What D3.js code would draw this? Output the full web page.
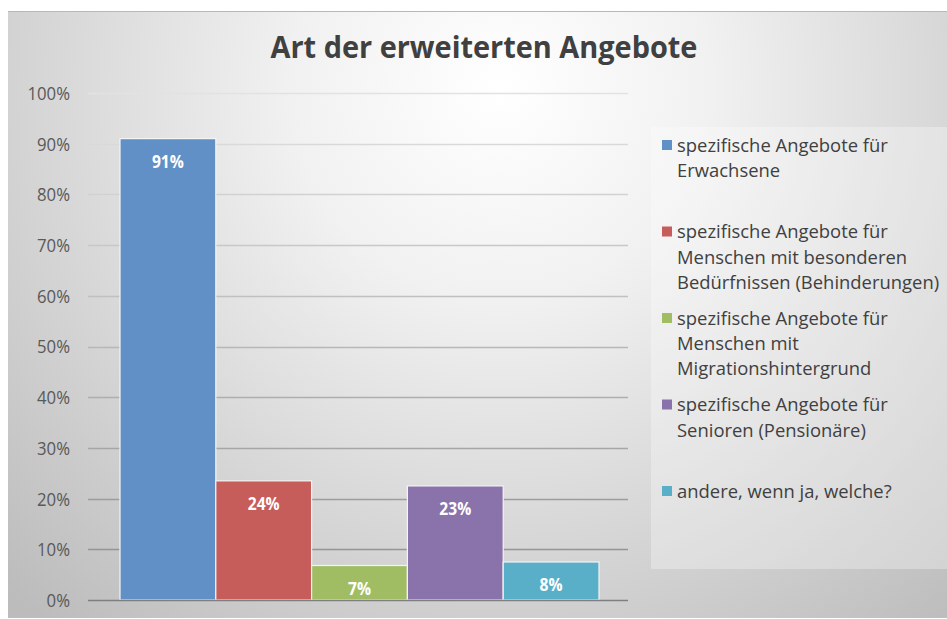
<!DOCTYPE html>
<html><head><meta charset="utf-8">
<script src="https://cdn.jsdelivr.net/npm/d3@7/dist/d3.min.js"></script>
<style>
html,body{margin:0;padding:0;background:#fff;}
svg{display:block;}
</style></head>
<body>
<svg id="chart" width="947" height="619"></svg>
<script>
const title = "Art der erweiterten Angebote";
const categories = [
  "spezifische Angebote für Erwachsene",
  "spezifische Angebote für Menschen mit besonderen Bedürfnissen (Behinderungen)",
  "spezifische Angebote für Menschen mit Migrationshintergrund",
  "spezifische Angebote für Senioren (Pensionäre)",
  "andere, wenn ja, welche?"
];
const legendLines = [
  ["spezifische Angebote für", "Erwachsene"],
  ["spezifische Angebote für", "Menschen mit besonderen", "Bedürfnissen (Behinderungen)"],
  ["spezifische Angebote für", "Menschen mit", "Migrationshintergrund"],
  ["spezifische Angebote für", "Senioren (Pensionäre)"],
  ["andere, wenn ja, welche?"]
];
const values = [0.91, 0.235, 0.068, 0.225, 0.075];
const colors = ["#6090c6", "#c65d5b", "#a0bd63", "#8a72aa", "#5aafc8"];
const yTicks = [0, 0.1, 0.2, 0.3, 0.4, 0.5, 0.6, 0.7, 0.8, 0.9, 1.0];

const svg = d3.select("#chart");
const defs = svg.append("defs");
const rg = defs.append("radialGradient").attr("id", "bg")
  .attr("gradientUnits", "userSpaceOnUse")
  .attr("cx", 500).attr("cy", 90).attr("r", 700);
rg.append("stop").attr("offset", "0%").attr("stop-color", "#ffffff");
rg.append("stop").attr("offset", "30%").attr("stop-color", "#f1f1f1");
rg.append("stop").attr("offset", "100%").attr("stop-color", "#bcbcbc");

svg.append("rect").attr("x", 8).attr("y", 11).attr("width", 939).attr("height", 607)
  .attr("fill", "url(#bg)");
svg.append("line").attr("x1", 8).attr("x2", 947).attr("y1", 11.5).attr("y2", 11.5)
  .attr("stroke", "#b8b8b8").attr("stroke-width", 1);

const font = "'Open Sans', 'DejaVu Sans', sans-serif";

// horizontally condense a text element to a target width, anchored at ax
function condense(sel, target, ax) {
  const w = sel.node().getBBox().width;
  const s = target / w;
  sel.attr("transform", `translate(${ax},0) scale(${s},1) translate(${-ax},0)`);
}

// title
const t = svg.append("text").attr("x", 484).attr("y", 58)
  .attr("text-anchor", "middle").attr("font-family", font)
  .attr("font-weight", 700).attr("font-size", 30.5).attr("fill", "#404040").text(title);
condense(t, 427, 484);

// scales
const y = d3.scaleLinear().domain([0, 1]).range([600, 93]);
const x = d3.scaleBand().domain(categories).range([120, 599]).padding(0);
const gridColor = d3.scaleLinear().domain([1, 0]).range(["#e2e2e2", "#8c8c8c"]);

// gridlines
svg.append("g").selectAll("line").data(yTicks.filter(d => d > 0)).join("line")
  .attr("x1", 88).attr("x2", 628)
  .attr("y1", d => Math.round(y(d)) + 0.5).attr("y2", d => Math.round(y(d)) + 0.5)
  .attr("stroke", d => gridColor(d)).attr("stroke-width", 1.3);

// y axis labels
const yAxis = d3.axisLeft(y).tickValues(yTicks).tickFormat(d3.format(".0%")).tickSize(0).tickPadding(0);
const ga = svg.append("g").attr("transform", "translate(70,0)").call(yAxis);
ga.select(".domain").remove();
ga.selectAll("text").attr("font-family", font).attr("font-size", 18)
  .attr("fill", "#595959").attr("dy", "0.36em")
  .attr("transform", "scale(0.93,1)").attr("x", 0);

// bars
svg.append("g").selectAll("rect").data(categories).join("rect")
  .attr("x", d => x(d)).attr("width", x.bandwidth())
  .attr("y", (d, i) => y(values[i])).attr("height", (d, i) => y(0) - y(values[i]))
  .attr("fill", (d, i) => colors[i])
  .attr("stroke", "#f4f4f4").attr("stroke-width", 1.2);

// axis line
svg.append("line").attr("x1", 88).attr("x2", 628).attr("y1", 600.5).attr("y2", 600.5)
  .attr("stroke", "#7f7f7f").attr("stroke-width", 1.5);

// data labels
const dl = svg.append("g").selectAll("text").data(categories).join("text")
  .attr("x", d => x(d) + x.bandwidth() / 2)
  .attr("y", (d, i) => y(values[i]) + 29)
  .attr("text-anchor", "middle").attr("font-family", font).attr("font-weight", 700)
  .attr("font-size", 17).attr("fill", "#ffffff")
  .text((d, i) => d3.format(".0%")(values[i]));
dl.each(function(d) { const c = x(d) + x.bandwidth() / 2; d3.select(this).attr("transform", `translate(${c},0) scale(0.92,1) translate(${-c},0)`); });

// legend
svg.append("rect").attr("x", 651).attr("y", 127).attr("width", 296).attr("height", 442)
  .attr("fill", "#ffffff").attr("fill-opacity", 0.3);
const lg = svg.append("g");
const firstBase = 152, slot = 86.5, lineH = 25.2;
const legendTexts = [];
legendLines.forEach((lines, i) => {
  const base = firstBase + i * slot;
  lg.append("rect").attr("x", 662).attr("y", base - 12).attr("width", 10).attr("height", 10)
    .attr("fill", colors[i]);
  const tx = lg.append("text").attr("font-family", font).attr("font-size", 18.5).attr("fill", "#404040");
  lines.forEach((ln, j) => {
    tx.append("tspan").attr("x", 677).attr("y", base + j * lineH).text(ln);
  });
  legendTexts.push(tx);
});
{
  const w = lg.select("text tspan").node().getComputedTextLength();
  const s = 211 / w;
  legendTexts.forEach(tx => tx.attr("transform", `translate(677,0) scale(${s},1) translate(-677,0)`));
}
</script>
</body></html>
